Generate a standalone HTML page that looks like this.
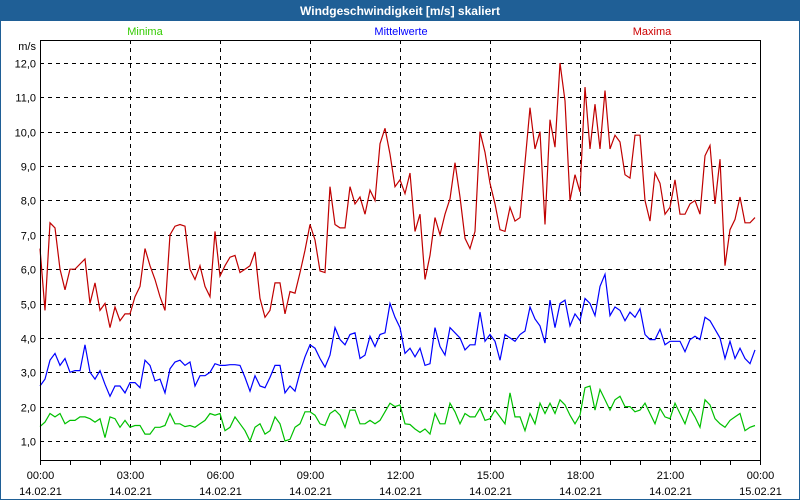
<!DOCTYPE html>
<html><head><meta charset="utf-8"><style>
body{margin:0;background:#fff;}
svg{display:block;font-family:"Liberation Sans",sans-serif;}
</style></head><body>
<svg id="chart" width="800" height="500" viewBox="0 0 800 500">
<rect x="0.5" y="0.5" width="799" height="499" fill="#fff" stroke="#1f5f96"/>
<rect x="0" y="0" width="800" height="21" fill="#1f5f96"/>
<text x="400" y="15" text-anchor="middle" fill="#fff" font-weight="bold" font-size="12">Windgeschwindigkeit [m/s] skaliert</text>
<text x="145" y="35" text-anchor="middle" fill="#33cc00" font-size="11">Minima</text>
<text x="401" y="35" text-anchor="middle" fill="#0000ff" font-size="11">Mittelwerte</text>
<text x="652" y="35" text-anchor="middle" fill="#cc0000" font-size="11">Maxima</text>
<text x="36" y="50" text-anchor="end" fill="#000" font-size="11">m/s</text>
<g id="grid"></g><g id="series"></g><g id="axes"></g>
</svg>
<script>
const yTicks=[1,2,3,4,5,6,7,8,9,10,11,12];
const yTickLabels=["1,0","2,0","3,0","4,0","5,0","6,0","7,0","8,0","9,0","10,0","11,0","12,0"];
const xTickHours=[0,3,6,9,12,15,18,21,24];
const xTimeLabels=["00:00","03:00","06:00","09:00","12:00","15:00","18:00","21:00","00:00"];
const xDateLabels=["14.02.21","14.02.21","14.02.21","14.02.21","14.02.21","14.02.21","14.02.21","14.02.21","15.02.21"];
const maxima=[6.6,4.8,7.35,7.2,6.0,5.4,6.0,6.0,6.15,6.3,5.0,5.6,4.8,5.0,4.3,4.9,4.5,4.7,4.7,5.2,5.5,6.6,6.1,5.7,5.2,4.8,7.0,7.25,7.3,7.25,6.0,5.7,6.1,5.5,5.2,7.1,5.8,
6.1,6.35,6.4,5.9,6.0,6.1,6.5,5.15,4.6,4.8,5.6,5.6,4.7,5.35,5.3,5.9,6.55,7.3,6.85,5.95,5.9,8.4,7.3,7.2,7.2,8.4,7.9,8.1,7.6,8.3,8.0,9.65,10.1,9.35,8.4,8.6,
8.2,8.8,7.1,7.6,5.7,6.4,7.5,7.0,7.6,8.05,9.1,8.1,6.9,6.6,7.1,10.0,9.4,8.5,7.9,7.15,7.1,7.8,7.4,7.5,9.1,10.7,9.5,10.0,7.3,10.35,9.55,12.0,10.9,8.0,8.75,8.25,
11.3,9.5,10.8,9.5,11.2,9.5,9.9,9.7,8.75,8.65,9.9,9.9,8.0,7.4,8.8,8.5,7.6,7.8,8.6,7.6,7.6,7.9,8.0,7.6,9.3,9.6,7.9,9.2,6.1,7.15,7.45,8.1,7.35,7.35,7.5];
const mittel=[2.6,2.8,3.35,3.55,3.2,3.4,3.0,3.05,3.05,3.8,3.0,2.8,3.05,2.65,2.3,2.6,2.6,2.4,2.7,2.7,2.55,3.35,3.2,2.75,2.8,2.4,3.1,3.3,3.35,3.2,3.3,2.6,2.9,2.9,3.0,3.25,3.2,
3.2,3.22,3.22,3.2,2.85,2.45,2.9,2.6,2.55,2.85,3.2,3.2,2.4,2.6,2.45,3.0,3.45,3.8,3.7,3.4,3.15,3.5,4.3,3.95,3.8,4.1,4.15,3.4,3.5,4.05,3.75,4.1,4.15,5.0,4.6,4.3,
3.55,3.7,3.45,3.7,3.2,3.25,4.3,3.75,3.5,4.3,4.15,4.0,3.65,3.8,3.8,4.75,3.9,4.1,3.9,3.35,4.1,4.0,3.9,4.1,4.2,4.9,4.55,4.35,3.85,5.1,4.3,5.0,5.1,4.35,4.7,4.5,
5.15,5.0,4.65,5.5,5.85,4.65,4.9,4.8,4.5,4.75,4.6,4.85,4.1,3.95,3.95,4.25,3.8,3.9,3.9,3.9,3.6,3.95,4.05,3.95,4.6,4.5,4.25,4.0,3.4,3.9,3.4,3.7,3.4,3.25,3.65];
const minima=[1.42,1.55,1.8,1.7,1.8,1.5,1.6,1.6,1.7,1.7,1.65,1.55,1.65,1.1,1.7,1.65,1.4,1.6,1.4,1.45,1.45,1.2,1.2,1.4,1.4,1.45,1.8,1.5,1.5,1.42,1.45,1.4,1.5,1.6,1.8,1.75,1.8,
1.3,1.4,1.7,1.5,1.3,1.0,1.4,1.5,1.2,1.3,1.7,1.5,1.0,1.05,1.4,1.5,1.85,1.85,1.75,1.5,1.45,1.8,1.9,1.75,1.4,1.9,1.9,1.5,1.5,1.6,1.5,1.6,1.85,2.1,2.0,2.05,
1.5,1.48,1.35,1.25,1.35,1.2,1.8,1.5,1.5,2.1,1.85,1.5,1.8,1.7,1.7,1.95,1.6,1.65,1.9,1.7,1.5,2.4,1.7,1.7,1.3,1.8,1.5,2.1,1.8,2.1,1.8,2.2,2.05,1.75,1.5,1.75,
2.55,2.6,1.9,2.5,2.2,1.9,2.2,2.3,2.0,2.0,1.85,1.9,2.1,1.8,1.5,1.95,1.7,1.65,2.1,1.8,1.5,1.95,1.7,1.4,2.2,2.05,1.65,1.5,1.4,1.6,1.7,1.8,1.3,1.4,1.45];

const L=40,R=760,T=40,B=460;
function xOfHour(h){return L+(R-L)*h/24;}
function xOfIndex(i){return xOfHour(i/6);}
function yOf(v){return 441-(v-1)*(441-63)/11;}
const NS="http://www.w3.org/2000/svg";
function mk(tag,attrs,parent){const e=document.createElementNS(NS,tag);for(const k in attrs)e.setAttribute(k,attrs[k]);parent.appendChild(e);return e;}
const grid=document.getElementById('grid'),axes=document.getElementById('axes'),series=document.getElementById('series');
yTicks.forEach((v,i)=>{
  const y=Math.round(yOf(v))+0.5;
  const ln=mk('line',{x1:L,x2:R,y1:y,y2:y,stroke:'#000','stroke-dasharray':'4,4','stroke-width':1},grid);
  
  
  const t=mk('text',{x:36,y:y+4,'text-anchor':'end','font-size':11,fill:'#000'},axes);
  t.textContent=yTickLabels[i];
  
  
});
xTickHours.forEach((h,i)=>{
  const x=Math.round(xOfHour(h))+0.5;
  if(h>0&&h<24){
    const ln=mk('line',{x1:x,x2:x,y1:T,y2:B,stroke:'#000','stroke-dasharray':'4,4','stroke-width':1},grid);
    
    
  }
  const t1=mk('text',{x:x,y:479,'text-anchor':'middle','font-size':11,fill:'#000'},axes);
  t1.textContent=xTimeLabels[i];
  
  
  const t2=mk('text',{x:x,y:495,'text-anchor':'middle','font-size':11,fill:'#000'},axes);
  t2.textContent=xDateLabels[i];
  
  
});
for(let h=0;h<=24;h++){
  const x=Math.round(xOfHour(h))+0.5;
  const tk=mk('line',{x1:x,x2:x,y1:B,y2:B+5,stroke:'#000'},axes);
  
  
}
const frame=mk('rect',{x:L+0.5,y:T+0.5,width:R-L,height:B-T,fill:'none',stroke:'#000','stroke-width':1},axes);


function drawLine(arr,color,name){
  const pts=arr.map((v,i)=>xOfIndex(i).toFixed(1)+','+yOf(v).toFixed(1)).join(' ');
  const p=mk('polyline',{points:pts,fill:'none',stroke:color,'stroke-width':1.2},series);
  
  
}
drawLine(minima,'#00c000','minima-line');
drawLine(mittel,'#0000ff','mittelwerte-line');
drawLine(maxima,'#c00000','maxima-line');
</script>
</body></html>
